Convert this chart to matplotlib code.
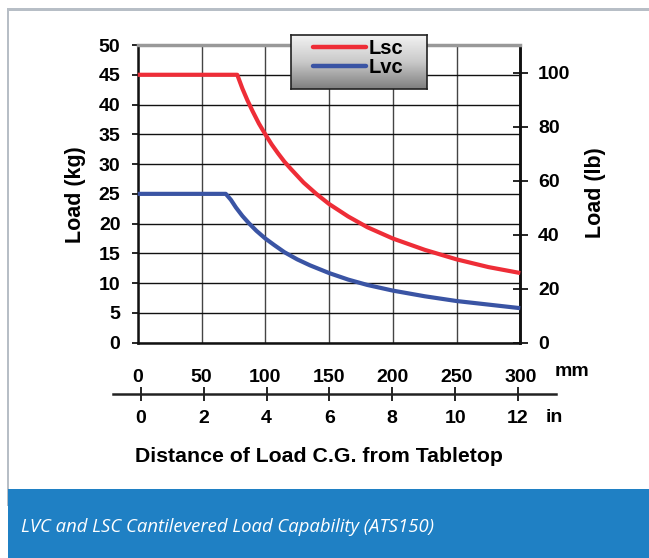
import numpy as np
import matplotlib.pyplot as plt
import matplotlib as mpl
from matplotlib.colors import LinearSegmentedColormap
from matplotlib.patches import Rectangle

plt.rcParams['font.family'] = ['Liberation Sans', 'DejaVu Sans']
plt.rcParams['font.weight'] = 'bold'

# distance of load C.G. from tabletop (mm) and load (kg)
lsc_mm = [0, 78, 82, 86, 90, 95, 100, 105, 110, 115, 120, 130, 140, 150, 165, 180, 200, 225, 250, 275, 300]
lsc_kg = [45, 45, 42.7, 40.7, 38.9, 36.8, 35, 33.3, 31.8, 30.4, 29.2, 26.9, 25, 23.3, 21.2, 19.4, 17.5, 15.6, 14, 12.7, 11.7]
lvc_mm = [0, 69, 73, 77, 82, 87, 93, 100, 107, 115, 125, 135, 150, 165, 180, 200, 225, 250, 275, 300]
lvc_kg = [25, 25, 24, 22.7, 21.3, 20.1, 18.8, 17.5, 16.4, 15.2, 14, 13, 11.7, 10.6, 9.7, 8.75, 7.8, 7, 6.4, 5.8]

mm_ticks = [0, 50, 100, 150, 200, 250, 300]
kg_ticks = [0, 5, 10, 15, 20, 25, 30, 35, 40, 45, 50]
lb_ticks = [0, 20, 40, 60, 80, 100]
in_ticks = [0, 2, 4, 6, 8, 10, 12]

red = '#ee2d37'
blue = '#3a54a4'
W, H = 649, 558

fig = plt.figure(figsize=(6.49, 5.58), dpi=100)

# page frame and caption band
fig.add_artist(Rectangle((7/W, 1-10.5/H), 1, 3/H, transform=fig.transFigure, color='#b7bec6', lw=0))
fig.add_artist(Rectangle((6.5/W, 1-506/H), 2.5/W, (506-9)/H, transform=fig.transFigure, color='#b7bec6', lw=0))
fig.add_artist(Rectangle((8/W, 0), 1, (558-489)/H, transform=fig.transFigure, color='#1f80c4', lw=0))
fig.text(21/W, 1-527/H, 'LVC and LSC Cantilevered Load Capability (ATS150)', family='Open Sans',
         style='italic', weight='normal', fontsize=13.3, color='white', ha='left', va='center')

ax = fig.add_axes([137.8/W, 1-342.7/H, 382.5/W, 297.7/H])
ax.plot(lsc_mm, lsc_kg, color=red, lw=3, label='Lsc', clip_on=False, solid_capstyle='butt', zorder=5)
ax.plot(lvc_mm, lvc_kg, color=blue, lw=3, label='Lvc', clip_on=False, solid_capstyle='butt', zorder=5)
ax.set_xlim(0, 300)
ax.set_ylim(0, 50)
ax.set_xticks(mm_ticks)
ax.set_yticks(kg_ticks)
ax.grid(True, axis='y', color='#111111', lw=1)
ax.grid(True, axis='x', color='#444444', lw=1)
ax.tick_params(axis='x', length=0, pad=19, labelsize=14)
ax.tick_params(axis='y', direction='out', length=4.5, width=1.2, pad=8, labelsize=14)
for s in ['left', 'right', 'bottom']:
    ax.spines[s].set_linewidth(1.8)
    ax.spines[s].set_color('#111111')
ax.spines['top'].set_linewidth(2.5)
ax.spines['top'].set_color('#999999')

lb = ax.secondary_yaxis('right', functions=(lambda k: k*2.20462, lambda l: l/2.20462))
lb.set_yticks(lb_ticks)
lb.tick_params(direction='inout', length=10.8, width=1.2, pad=7.5, labelsize=14)
lb.spines['right'].set_linewidth(1.8)

fig.text(555/W, 1-372/H, 'mm', fontsize=14, ha='left', va='center')

# inch scale underneath
ax2 = fig.add_axes([113/W, 1-394/H, 443/W, 0.0001])
ax2.set_xlim(-0.89, 13.21)
ax2.set_xticks(in_ticks)
ax2.set_yticks([])
for s in ['left', 'right', 'top']:
    ax2.spines[s].set_visible(False)
ax2.spines['bottom'].set_linewidth(1.8)
ax2.spines['bottom'].set_color('#222222')
ax2.patch.set_alpha(0)
ax2.tick_params(axis='x', direction='inout', length=9.4, width=1.2, pad=7, labelsize=14)
fig.text(546/W, 1-417/H, 'in', fontsize=14, ha='left', va='center')

fig.text(75/W, 1-195/H, 'Load (kg)', fontsize=15.5, rotation=90, ha='center', va='center')
fig.text(596/W, 1-193/H, 'Load (lb)', fontsize=15.5, rotation=90, ha='center', va='center')
fig.text(319/W, 1-457/H, 'Distance of Load C.G. from Tabletop', fontsize=15.3, ha='center', va='center')

# legend box with grey gradient
lax = fig.add_axes([291/W, 1-89/H, 136/W, 54/H])
cmap = LinearSegmentedColormap.from_list('g', ['#f2f2f2', '#c9c9c9', '#7f7f7f'])
lax.imshow(np.linspace(0, 1, 100).reshape(-1, 1), cmap=cmap, aspect='auto', extent=[0, 1, 0, 1])
lax.set_xticks([])
lax.set_yticks([])
for s in lax.spines.values():
    s.set_linewidth(1.2)
    s.set_color('#222222')
handles, labels = ax.get_legend_handles_labels()
leg = lax.legend(handles, labels, loc='upper left', bbox_to_anchor=(0.16, 0.92), frameon=False,
                 fontsize=14.5, handlelength=2.65, handletextpad=0.12, labelspacing=0.0,
                 borderpad=0, borderaxespad=0)
for l in leg.get_lines():
    l.set_linewidth(3.2)
    l.set_solid_capstyle('round')

plt.savefig('out.png', dpi=100)
plt.close()
